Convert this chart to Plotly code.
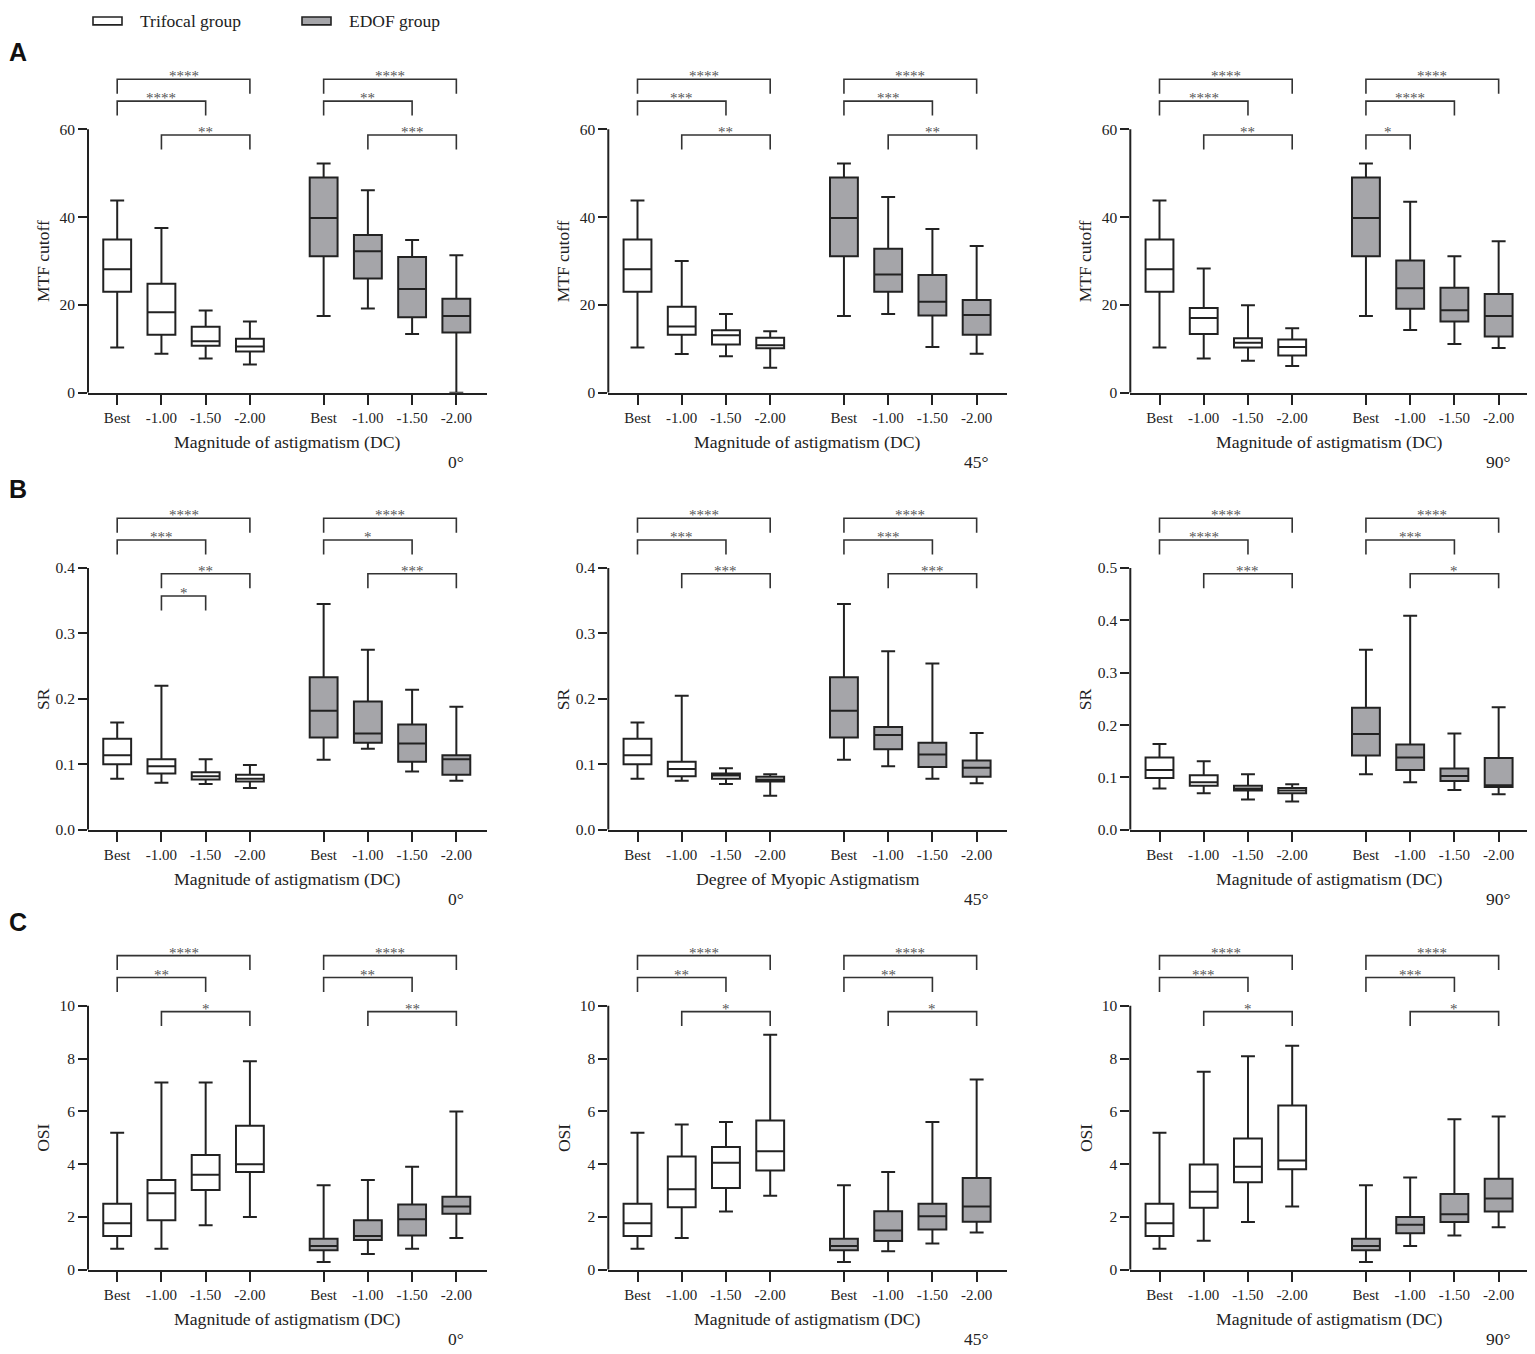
import plotly.graph_objects as go

# box statistics per level: (lower whisker, Q1, median, Q3, upper whisker)
levels = ["Best", "-1.00", "-1.50", "-2.00"]

mtf_0_tri = [(10.3, 23.0, 28.1, 34.9, 43.8), (8.9, 13.2, 18.3, 24.8, 37.5), (7.8, 10.7, 11.7, 15.0, 18.7), (6.4, 9.4, 10.5, 12.3, 16.2)]
mtf_0_edof = [(17.5, 31.1, 39.8, 49.0, 52.2), (19.2, 26.0, 32.2, 35.9, 46.1), (13.4, 17.2, 23.6, 30.9, 34.8), (0.0, 13.7, 17.5, 21.4, 31.3)]
mtf_45_tri = [(10.3, 23.0, 28.1, 34.9, 43.8), (8.8, 13.2, 15.1, 19.6, 30.0), (8.3, 11.0, 13.1, 14.2, 17.9), (5.7, 10.1, 10.8, 12.5, 14.0)]
mtf_45_edof = [(17.5, 31.1, 39.8, 49.0, 52.2), (17.9, 23.0, 26.9, 32.8, 44.6), (10.4, 17.6, 20.7, 26.8, 37.3), (8.9, 13.2, 17.7, 21.1, 33.4)]
mtf_90_tri = [(10.3, 23.0, 28.1, 34.9, 43.8), (7.8, 13.4, 17.0, 19.3, 28.3), (7.3, 10.3, 11.4, 12.4, 19.9), (6.1, 8.5, 10.4, 12.1, 14.7)]
mtf_90_edof = [(17.5, 31.1, 39.8, 49.0, 52.2), (14.3, 19.1, 23.8, 30.1, 43.5), (11.1, 16.2, 18.8, 23.9, 31.1), (10.2, 12.8, 17.5, 22.5, 34.5)]

sr_0_tri = [(0.078, 0.100, 0.114, 0.139, 0.164), (0.072, 0.086, 0.097, 0.108, 0.220), (0.070, 0.077, 0.082, 0.088, 0.108), (0.064, 0.074, 0.078, 0.084, 0.099)]
sr_0_edof = [(0.107, 0.141, 0.182, 0.233, 0.345), (0.124, 0.133, 0.147, 0.196, 0.275), (0.089, 0.104, 0.132, 0.161, 0.214), (0.075, 0.084, 0.108, 0.114, 0.188)]
sr_45_tri = [(0.078, 0.100, 0.114, 0.139, 0.164), (0.075, 0.082, 0.093, 0.104, 0.205), (0.070, 0.078, 0.083, 0.086, 0.094), (0.052, 0.074, 0.077, 0.081, 0.085)]
sr_45_edof = [(0.107, 0.141, 0.182, 0.233, 0.345), (0.097, 0.123, 0.145, 0.157, 0.273), (0.078, 0.096, 0.115, 0.133, 0.254), (0.071, 0.081, 0.095, 0.106, 0.148)]
sr_90_tri = [(0.079, 0.099, 0.114, 0.138, 0.164), (0.070, 0.084, 0.091, 0.104, 0.131), (0.058, 0.075, 0.079, 0.084, 0.106), (0.054, 0.070, 0.075, 0.080, 0.087)]
sr_90_edof = [(0.106, 0.142, 0.183, 0.233, 0.344), (0.091, 0.114, 0.138, 0.163, 0.409), (0.076, 0.093, 0.103, 0.117, 0.184), (0.068, 0.082, 0.085, 0.137, 0.234)]

osi_0_tri = [(0.80, 1.28, 1.76, 2.50, 5.19), (0.80, 1.88, 2.90, 3.40, 7.09), (1.69, 3.02, 3.60, 4.35, 7.09), (2.00, 3.70, 4.00, 5.46, 7.90)]
osi_0_edof = [(0.30, 0.74, 0.90, 1.18, 3.20), (0.60, 1.13, 1.28, 1.88, 3.40), (0.80, 1.30, 1.91, 2.47, 3.90), (1.20, 2.12, 2.40, 2.77, 6.00)]
osi_45_tri = [(0.80, 1.28, 1.76, 2.50, 5.19), (1.20, 2.37, 3.05, 4.29, 5.50), (2.21, 3.10, 4.05, 4.65, 5.60), (2.80, 3.76, 4.49, 5.65, 8.90)]
osi_45_edof = [(0.30, 0.74, 0.90, 1.18, 3.20), (0.70, 1.09, 1.49, 2.22, 3.70), (1.00, 1.53, 2.03, 2.50, 5.60), (1.41, 1.82, 2.40, 3.48, 7.21)]
osi_90_tri = [(0.80, 1.28, 1.76, 2.50, 5.19), (1.10, 2.35, 2.96, 3.99, 7.50), (1.81, 3.32, 3.90, 4.97, 8.09), (2.40, 3.81, 4.14, 6.22, 8.49)]
osi_90_edof = [(0.30, 0.74, 0.90, 1.18, 3.20), (0.90, 1.38, 1.71, 2.00, 3.50), (1.30, 1.81, 2.10, 2.87, 5.70), (1.61, 2.21, 2.70, 3.45, 5.81)]

# significance brackets: (group, level i, level j, stars)
sig_mtf_0 = [("T", 0, 3, "****"), ("T", 0, 2, "****"), ("T", 1, 3, "**"), ("E", 0, 3, "****"), ("E", 0, 2, "**"), ("E", 1, 3, "***")]
sig_mtf_45 = [("T", 0, 3, "****"), ("T", 0, 2, "***"), ("T", 1, 3, "**"), ("E", 0, 3, "****"), ("E", 0, 2, "***"), ("E", 1, 3, "**")]
sig_mtf_90 = [("T", 0, 3, "****"), ("T", 0, 2, "****"), ("T", 1, 3, "**"), ("E", 0, 3, "****"), ("E", 0, 2, "****"), ("E", 0, 1, "*")]
sig_sr_0 = [("T", 0, 3, "****"), ("T", 0, 2, "***"), ("T", 1, 3, "**"), ("T", 1, 2, "*"), ("E", 0, 3, "****"), ("E", 0, 2, "*"), ("E", 1, 3, "***")]
sig_sr_45 = [("T", 0, 3, "****"), ("T", 0, 2, "***"), ("T", 1, 3, "***"), ("E", 0, 3, "****"), ("E", 0, 2, "***"), ("E", 1, 3, "***")]
sig_sr_90 = [("T", 0, 3, "****"), ("T", 0, 2, "****"), ("T", 1, 3, "***"), ("E", 0, 3, "****"), ("E", 0, 2, "***"), ("E", 1, 3, "*")]
sig_osi_0 = [("T", 0, 3, "****"), ("T", 0, 2, "**"), ("T", 1, 3, "*"), ("E", 0, 3, "****"), ("E", 0, 2, "**"), ("E", 1, 3, "**")]
sig_osi_45 = [("T", 0, 3, "****"), ("T", 0, 2, "**"), ("T", 1, 3, "*"), ("E", 0, 3, "****"), ("E", 0, 2, "**"), ("E", 1, 3, "*")]
sig_osi_90 = [("T", 0, 3, "****"), ("T", 0, 2, "***"), ("T", 1, 3, "*"), ("E", 0, 3, "****"), ("E", 0, 2, "***"), ("E", 1, 3, "*")]

XT_MAG = "Magnitude of astigmatism (DC)"
XT_MYO = "Degree of Myopic Astigmatism"

# (trifocal, edof, brackets, axis max, tick step, y title, x title, angle)
panels = [
    (mtf_0_tri, mtf_0_edof, sig_mtf_0, 60, 20, "MTF cutoff", XT_MAG, "0°"),
    (mtf_45_tri, mtf_45_edof, sig_mtf_45, 60, 20, "MTF cutoff", XT_MAG, "45°"),
    (mtf_90_tri, mtf_90_edof, sig_mtf_90, 60, 20, "MTF cutoff", XT_MAG, "90°"),
    (sr_0_tri, sr_0_edof, sig_sr_0, 0.4, 0.1, "SR", XT_MAG, "0°"),
    (sr_45_tri, sr_45_edof, sig_sr_45, 0.4, 0.1, "SR", XT_MYO, "45°"),
    (sr_90_tri, sr_90_edof, sig_sr_90, 0.5, 0.1, "SR", XT_MAG, "90°"),
    (osi_0_tri, osi_0_edof, sig_osi_0, 10, 2, "OSI", XT_MAG, "0°"),
    (osi_45_tri, osi_45_edof, sig_osi_45, 10, 2, "OSI", XT_MAG, "45°"),
    (osi_90_tri, osi_90_edof, sig_osi_90, 10, 2, "OSI", XT_MAG, "90°"),
]

W, H = 1535, 1354
OFF = 8  # page body margin
INK = "#222222"
GRAY = "#a5a5a9"
SERIF = "Liberation Serif"
GAP = 4.667  # offset of the EDOF group on the x axis


def px_x(p):
    return (p - OFF) / W


def px_y(p):
    return 1 - (p - OFF) / H


col_px = [(88, 487), (608.3, 1007.3), (1130.3, 1529.3)]
row_px = [(395, 63.75), (834.7, 505.5), (1277.3, 945.3)]  # (y of zero, top of plot area)
bracket_level = {(0, 3): 1.19, (0, 2): 1.107, (1, 3): 0.978, (0, 1): 0.978, (1, 2): 0.893}

fig = go.Figure()
layout = {}
annotations = []
shapes = []

for k, (tri, edof, sig, ymax, step, ytitle, xtitle, angle) in enumerate(panels):
    r, c = divmod(k, 3)
    n = "" if k == 0 else str(k + 1)
    xa, ya = "x" + n, "y" + n
    offsets = {"T": 0.0, "E": GAP}

    for data, name, fill, g in ((tri, "Trifocal group", "white", "T"), (edof, "EDOF group", GRAY, "E")):
        fig.add_trace(go.Box(
            x=[i + offsets[g] for i in range(len(levels))],
            lowerfence=[b[0] for b in data],
            q1=[b[1] for b in data],
            median=[b[2] for b in data],
            q3=[b[3] for b in data],
            upperfence=[b[4] for b in data],
            orientation="v", boxpoints=False, width=0.63, whiskerwidth=0.5,
            fillcolor=fill, line=dict(color=INK, width=2),
            name=name, showlegend=False, xaxis=xa, yaxis=ya,
        ))

    # brackets
    bx, by = [], []
    for g, i, j, stars in sig:
        top = bracket_level[(i, j)] * ymax
        leg = 0.055 * ymax
        x0, x1 = i + offsets[g], j + offsets[g]
        bx += [x0, x0, x1, x1, None]
        by += [top - leg, top, top, top - leg, None]
        annotations.append(dict(x=(x0 + x1) / 2, y=top, xref=xa, yref=ya, text=stars,
                                showarrow=False, yanchor="middle", yshift=3,
                                font=dict(family=SERIF, size=15, color="#555555")))
    fig.add_trace(go.Scatter(x=bx, y=by, mode="lines", line=dict(color="#333333", width=1.6),
                             hoverinfo="skip", showlegend=False, xaxis=xa, yaxis=ya))

    x0p, x1p = col_px[c]
    y0p, y1p = row_px[r]
    nt = int(round(ymax / step))
    tickvals = [round(t * step, 6) for t in range(nt + 1)]
    ticktext = [f"{v:.1f}" if step < 1 else f"{v:g}" for v in tickvals]

    layout["xaxis" + n] = dict(
        domain=[px_x(x0p), px_x(x1p)], anchor=ya, range=[-0.66, 8.36],
        tickvals=[i + offsets[g] for g in ("T", "E") for i in range(len(levels))],
        ticktext=levels * 2, showline=True, linewidth=2, linecolor=INK,
        ticks="outside", ticklen=10, tickwidth=2, tickcolor=INK,
        showgrid=False, zeroline=False, tickfont=dict(family=SERIF, size=15, color=INK),
    )
    layout["yaxis" + n] = dict(
        domain=[px_y(y0p), px_y(y1p)], anchor=xa, range=[0, ymax * 1.25],
        tickvals=tickvals, ticktext=ticktext, showline=False,
        ticks="outside", ticklen=9, tickwidth=2, tickcolor=INK,
        showgrid=False, zeroline=False, tickfont=dict(family=SERIF, size=15.5, color=INK),
    )
    # y axis line only up to the last tick
    shapes.append(dict(type="line", xref=xa + " domain", yref=ya, x0=0, x1=0, y0=0, y1=ymax,
                       line=dict(color=INK, width=2)))

    annotations.append(dict(x=0, y=ymax / 2, xref=xa + " domain", yref=ya, text=ytitle,
                            textangle=-90, showarrow=False, xanchor="center", yanchor="middle",
                            xshift=-45, font=dict(family=SERIF, size=17.5, color=INK)))
    annotations.append(dict(x=0.5, y=0, xref=xa + " domain", yref=ya + " domain", text=xtitle,
                            showarrow=False, yanchor="middle", yshift=-49,
                            font=dict(family=SERIF, size=17.7, color=INK)))
    annotations.append(dict(x=GAP + len(levels) - 1, y=0, xref=xa, yref=ya + " domain", text=angle,
                            showarrow=False, yanchor="middle", yshift=-69,
                            font=dict(family=SERIF, size=17.5, color=INK)))

# panel letters
for letter, ypx in (("A", 52), ("B", 492), ("C", 927)):
    annotations.append(dict(x=px_x(18), y=px_y(ypx), xref="paper", yref="paper", text=letter,
                            showarrow=False, xanchor="center", yanchor="middle",
                            font=dict(family="Liberation Sans", size=25, color="#111111", weight="bold")))

# legend drawn by hand
for label, fill, ix0, tx in (("Trifocal group", "white", 93, 138), ("EDOF group", GRAY, 302, 347)):
    shapes.append(dict(type="rect", xref="paper", yref="paper", x0=px_x(ix0), x1=px_x(ix0 + 29),
                       y0=px_y(25), y1=px_y(17), fillcolor=fill, line=dict(color=INK, width=1.6)))
    annotations.append(dict(x=px_x(tx), y=px_y(21), xref="paper", yref="paper", text=label,
                            showarrow=False, xanchor="left", yanchor="middle",
                            font=dict(family=SERIF, size=17.5, color=INK)))

fig.update_layout(
    width=W, height=H, margin=dict(l=0, r=0, t=0, b=0),
    paper_bgcolor="white", plot_bgcolor="white",
    boxmode="overlay", showlegend=False,
    annotations=annotations, shapes=shapes, **layout,
)

fig.write_html("out.html")
